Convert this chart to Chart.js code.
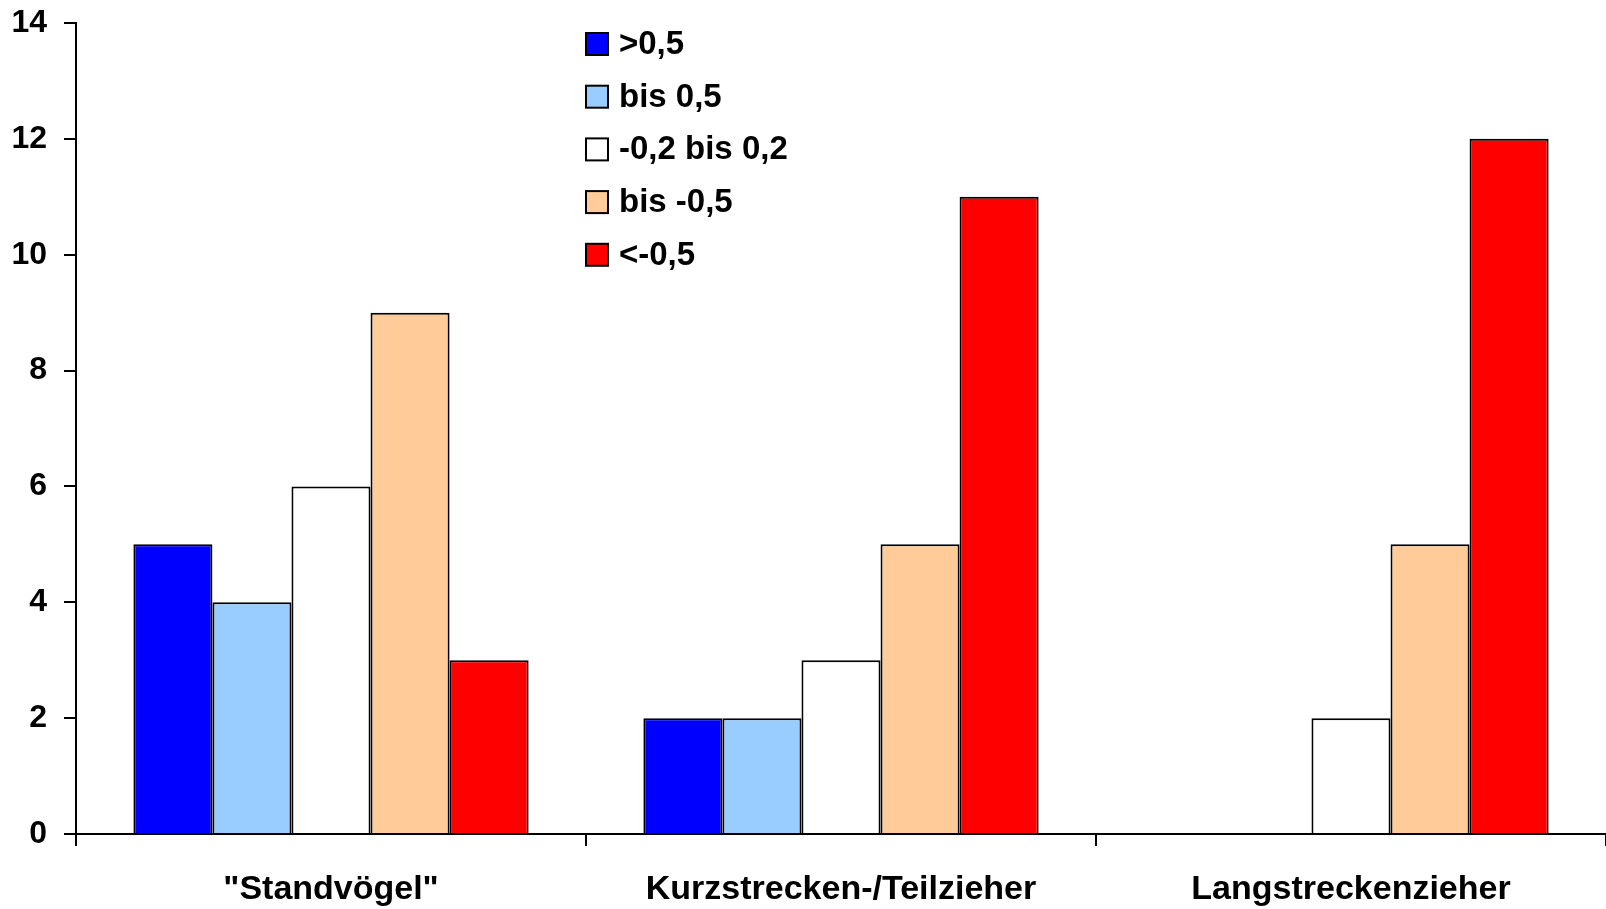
<!DOCTYPE html>
<html>
<head>
<meta charset="utf-8">
<script src="https://cdn.jsdelivr.net/npm/chart.js@4/dist/chart.umd.min.js"></script>
<style>
html,body{margin:0;padding:0;background:#fff;}
#wrap{width:1606px;height:909px;}
</style>
</head>
<body>
<div id="wrap"><canvas id="c" width="1606" height="909"></canvas></div>
<script>
const categories = ['"Standvögel"', 'Kurzstrecken-/Teilzieher', 'Langstreckenzieher'];
const seriesLabels = ['>0,5', 'bis 0,5', '-0,2 bis 0,2', 'bis -0,5', '<-0,5'];
const seriesColors = ['#0000FF', '#99CCFF', '#FFFFFF', '#FFCC99', '#FF0000'];
const valuesGt05 = [5, 2, 0];
const valuesBis05 = [4, 2, 0];
const valuesMid = [6, 3, 2];
const valuesBisNeg05 = [9, 5, 5];
const valuesLtNeg05 = [3, 11, 12];
const yTicks = [0, 2, 4, 6, 8, 10, 12, 14];

const FONT = "'Liberation Sans', Arial, sans-serif";
const seriesValues = [valuesGt05, valuesBis05, valuesMid, valuesBisNeg05, valuesLtNeg05];

const legendPlugin = {
  id: 'customLegend',
  afterDraw(chart) {
    const ctx = chart.ctx;
    const boxX = 586, boxSize = 22, firstY = 44, step = 52.7, textX = 619;
    ctx.save();
    chart.data.datasets.forEach((ds, i) => {
      const cy = firstY + i * step;
      ctx.fillStyle = ds.backgroundColor;
      ctx.fillRect(boxX, cy - boxSize / 2, boxSize, boxSize);
      ctx.lineWidth = 2;
      ctx.strokeStyle = '#000';
      ctx.strokeRect(boxX, cy - boxSize / 2, boxSize, boxSize);
      ctx.fillStyle = '#000';
      ctx.font = 'bold 33px ' + FONT;
      ctx.textBaseline = 'middle';
      ctx.textAlign = 'left';
      ctx.fillText(ds.label, textX, cy + 1);
    });
    ctx.restore();
  }
};

new Chart(document.getElementById('c'), {
  type: 'bar',
  data: {
    labels: categories,
    datasets: seriesLabels.map((lbl, i) => ({
      label: lbl,
      data: seriesValues[i],
      backgroundColor: seriesColors[i],
      borderColor: '#000',
      borderWidth: 2,
      categoryPercentage: 0.775,
      barPercentage: 1.0
    }))
  },
  options: {
    responsive: false,
    animation: false,
    devicePixelRatio: 1,
    layout: { padding: { top: 23, left: 0, right: 0, bottom: 0 } },
    plugins: {
      legend: { display: false },
      tooltip: { enabled: false }
    },
    scales: {
      x: {
        grid: { display: true, drawOnChartArea: false, drawTicks: true, tickLength: 12, color: '#000', lineWidth: 2, offset: true },
        border: { display: true, color: '#000', width: 2 },
        ticks: { color: '#000', font: { family: FONT, size: 34, weight: 'bold' }, padding: 23, maxRotation: 0 },
        afterFit(scale) { scale.height = 75; scale.paddingLeft = 0; scale.paddingRight = 0; }
      },
      y: {
        min: 0, max: 14,
        grid: { display: true, drawOnChartArea: false, drawTicks: true, tickLength: 12, color: '#000', lineWidth: 2 },
        border: { display: true, color: '#000', width: 2 },
        ticks: {
          stepSize: 2,
          color: '#000',
          padding: 17,
          font: { family: FONT, size: 32, weight: 'bold' },
          callback: (v) => yTicks.includes(v) ? String(v) : ''
        },
        afterFit(scale) { scale.width = 76; scale.paddingTop = 0; scale.paddingBottom = 0; }
      }
    }
  },
  plugins: [legendPlugin]
});
</script>
</body>
</html>
